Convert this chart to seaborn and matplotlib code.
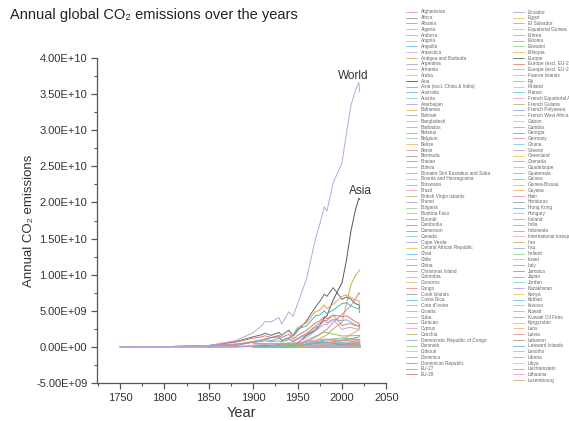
import numpy as np
import pandas as pd
import matplotlib
matplotlib.use("Agg")
import matplotlib.pyplot as plt
import seaborn as sns
from matplotlib.lines import Line2D
from matplotlib.ticker import FuncFormatter, MultipleLocator

# ---------------------------------------------------------------------------
# Annual CO2 emissions (tonnes). Large aggregates on a finer year grid (Gt),
# individual countries on a coarser grid (Mt).
# ---------------------------------------------------------------------------
YEARS = [1750, 1800, 1850, 1880, 1900, 1910, 1913, 1920, 1929, 1932, 1940, 1945,
         1950, 1960, 1970, 1975, 1980, 1983, 1990, 2000, 2005, 2010, 2015, 2019, 2020]

WORLD = [0.009, 0.028, 0.197, 0.86, 1.95, 3.03, 3.52, 3.45, 4.06, 3.15, 4.85, 4.24,
         6.0, 9.4, 14.9, 17.0, 19.4, 18.8, 22.7, 25.5, 29.6, 33.4, 35.5, 36.6, 35.3]
ASIA = [None, None, 0.001, 0.01, 0.08, 0.15, 0.18, 0.2, 0.3, 0.3, 0.45, 0.25,
        0.5, 1.6, 2.3, 3.0, 4.0, 4.3, 6.5, 8.9, 12.0, 16.0, 18.9, 20.6, 20.4]
CHINA = [None, None, None, None, None, 0.01, 0.02, 0.02, 0.03, 0.03, 0.04, 0.03,
         0.08, 0.78, 0.8, 1.15, 1.47, 1.66, 2.48, 3.4, 6.0, 8.6, 9.85, 10.5, 10.67]
ASIA_EXCL_CHINA_INDIA = [None, None, 0.001, 0.005, 0.05, 0.1, 0.12, 0.13, 0.2, 0.2, 0.3, 0.15,
                         0.35, 0.7, 1.3, 1.7, 2.2, 2.4, 3.4, 4.5, 5.1, 5.7, 6.6, 7.5, 7.3]
EUROPE = [0.009, 0.027, 0.19, 0.72, 1.4, 1.7, 1.9, 1.6, 2.0, 1.6, 2.3, 1.5,
          2.25, 3.6, 5.5, 6.3, 7.3, 7.0, 8.2, 6.6, 6.9, 6.6, 6.0, 5.8, 5.3]
EU28 = [0.009, 0.027, 0.19, 0.65, 1.2, 1.4, 1.55, 1.3, 1.6, 1.3, 1.75, 1.1,
        1.6, 2.3, 3.3, 3.6, 4.2, 3.9, 4.4, 4.2, 4.3, 3.9, 3.5, 3.3, 2.9]
EU27 = [0.0, 0.0, 0.03, 0.31, 0.78, 0.96, 1.06, 0.87, 1.17, 0.91, 1.28, 0.66,
        1.07, 1.72, 2.64, 2.98, 3.61, 3.34, 3.8, 3.64, 3.74, 3.4, 3.08, 2.93, 2.57]
EUROPE_EXCL_EU27 = [0.009, 0.027, 0.16, 0.41, 0.62, 0.74, 0.84, 0.73, 0.83, 0.69, 1.02, 0.84,
                    1.18, 1.88, 2.86, 3.32, 3.69, 3.66, 4.4, 2.96, 3.16, 3.2, 2.92, 2.87, 2.73]
EUROPE_EXCL_EU28 = [0.0, 0.0, 0.0, 0.07, 0.2, 0.3, 0.35, 0.3, 0.4, 0.3, 0.55, 0.4,
                    0.65, 1.3, 2.2, 2.7, 3.1, 3.1, 3.8, 2.4, 2.6, 2.7, 2.5, 2.5, 2.4]
NORTH_AMERICA = [0.0, 0.0003, 0.005, 0.2, 0.7, 1.0, 1.1, 1.3, 1.4, 0.95, 1.25, 1.7,
                 2.7, 3.3, 4.9, 5.1, 5.8, 5.3, 5.9, 7.0, 7.2, 6.8, 6.5, 6.4, 5.7]
UNITED_STATES = [None, 0.0003, 0.005, 0.18, 0.66, 0.95, 1.04, 1.25, 1.4, 0.9, 1.2, 1.6,
                 2.5, 2.9, 4.3, 4.4, 5.0, 4.6, 5.1, 6.0, 6.1, 5.7, 5.4, 5.26, 4.7]

SPARSE_YEARS = [1900, 1950, 1980, 2000, 2020]

COUNTRY_MT = {
    "Afghanistan": [None, 0.08, 1.8, 0.8, 11.0],
    "Africa": [9, 100, 540, 890, 1400],
    "Albania": [None, 0.3, 7.4, 3.1, 4.6],
    "Algeria": [None, 2.6, 66, 86, 170],
    "Andorra": [None, None, None, 0.5, 0.46],
    "Angola": [None, 0.5, 5.0, 9.5, 24],
    "Anguilla": [None, None, None, 0.03, 0.14],
    "Antarctica": [None, None, None, 0.01, 0.02],
    "Antigua and Barbuda": [None, 0.02, 0.5, 0.35, 0.5],
    "Argentina": [5, 18, 100, 140, 168],
    "Armenia": [None, 1, 20, 3.4, 6.9],
    "Aruba": [None, None, None, 2.4, 0.9],
    "Australia": [13, 44, 220, 350, 390],
    "Austria": [15, 20, 56, 63, 60],
    "Azerbaijan": [None, 10, 60, 29, 34],
    "Bahamas": [None, 0.3, 8, 1.8, 2.0],
    "Bahrain": [None, 0.5, 8, 18, 33],
    "Bangladesh": [None, 0.5, 8, 25, 90],
    "Barbados": [None, 0.1, 0.8, 1.2, 1.1],
    "Belarus": [None, 10, 95, 53, 58],
    "Belgium": [60, 90, 135, 125, 83],
    "Belize": [None, 0.02, 0.3, 0.5, 0.6],
    "Benin": [None, 0.05, 0.5, 1.5, 7],
    "Bermuda": [None, 0.1, 0.6, 0.5, 0.6],
    "Bhutan": [None, None, 0.01, 0.4, 1.4],
    "Bolivia": [None, 0.7, 4.5, 9, 20],
    "Bonaire Sint Eustatius and Saba": [None, None, None, 0.06, 0.07],
    "Bosnia and Herzegovina": [None, 3, 25, 14, 22],
    "Botswana": [None, None, 0.9, 4, 6.5],
    "Brazil": [1, 20, 190, 330, 467],
    "British Virgin Islands": [None, None, 0.01, 0.07, 0.17],
    "Brunei": [None, 0.1, 5, 6, 8],
    "Bulgaria": [0.3, 8, 85, 44, 38],
    "Burkina Faso": [None, 0.02, 0.4, 1, 4.7],
    "Burundi": [None, 0.01, 0.1, 0.3, 0.7],
    "Cambodia": [None, 0.1, 0.3, 2, 16],
    "Cameroon": [None, 0.2, 2.5, 3, 8],
    "Canada": [28, 140, 455, 565, 536],
    "Cape Verde": [None, 0.02, 0.1, 0.3, 0.6],
    "Central African Republic": [None, 0.02, 0.1, 0.2, 0.3],
    "Chad": [None, 0.01, 0.2, 0.2, 1],
    "Chile": [1.5, 10, 25, 53, 82],
    "Christmas Island": [None, None, None, 0.02, 0.03],
    "Colombia": [0.2, 8, 40, 58, 80],
    "Comoros": [None, None, 0.05, 0.1, 0.3],
    "Congo": [None, 0.1, 1.5, 0.6, 3.5],
    "Cook Islands": [None, None, 0.02, 0.05, 0.07],
    "Costa Rica": [None, 0.3, 2.5, 5, 7.5],
    "Cote d'Ivoire": [None, 0.3, 4.5, 6.5, 11],
    "Croatia": [None, 4, 25, 20, 17],
    "Cuba": [0.5, 6, 30, 25, 21],
    "Curacao": [None, None, None, None, 4],
    "Cyprus": [None, 0.4, 3, 6.5, 6.5],
    "Czechia": [30, 95, 185, 125, 91],
    "Democratic Republic of Congo": [None, 1.5, 4, 1.5, 2.5],
    "Denmark": [5, 20, 63, 53, 27],
    "Djibouti": [None, 0.02, 0.2, 0.3, 0.4],
    "Dominica": [None, 0.01, 0.03, 0.1, 0.18],
    "Dominican Republic": [None, 0.4, 6.5, 19, 22],
    "Ecuador": [None, 1, 14, 20, 31],
    "Egypt": [1, 8, 45, 140, 235],
    "El Salvador": [None, 0.3, 2, 5.5, 6],
    "Equatorial Guinea": [None, 0.01, 0.1, 0.6, 4.5],
    "Eritrea": [None, None, None, 0.6, 0.7],
    "Estonia": [None, 3, 35, 15, 9],
    "Eswatini": [None, None, 0.5, 1, 1.1],
    "Ethiopia": [None, 0.1, 1.8, 3.5, 18],
    "Faeroe Islands": [None, 0.03, 0.6, 0.7, 0.7],
    "Fiji": [None, 0.1, 0.8, 0.9, 1.5],
    "Finland": [1.5, 8, 57, 56, 40],
    "France": [160, 230, 500, 410, 300],
    "French Equatorial Africa": [None, 0.3, None, None, None],
    "French Guiana": [None, 0.02, 0.2, 0.9, 0.6],
    "French Polynesia": [None, 0.01, 0.4, 0.6, 0.8],
    "French West Africa": [None, 0.6, None, None, None],
    "Gabon": [None, 0.05, 5, 6, 6.5],
    "Gambia": [None, 0.01, 0.1, 0.25, 0.6],
    "Georgia": [None, 3, 30, 4.5, 10],
    "Germany": [420, 510, 1090, 900, 640],
    "Ghana": [None, 0.5, 2.5, 6, 17],
    "Greece": [1, 4, 50, 100, 57],
    "Greenland": [None, 0.01, 0.5, 0.6, 0.5],
    "Grenada": [None, 0.01, 0.06, 0.2, 0.3],
    "Guadeloupe": [None, 0.02, 0.6, 1.6, 1.4],
    "Guatemala": [None, 0.5, 4.5, 10, 19],
    "Guinea": [None, 0.05, 1, 1.2, 3.5],
    "Guinea-Bissau": [None, None, 0.13, 0.15, 0.3],
    "Guyana": [None, 0.2, 1.5, 1.7, 2.5],
    "Haiti": [None, 0.1, 0.8, 1.4, 3],
    "Honduras": [None, 0.3, 2, 5, 9.5],
    "Hong Kong": [None, 1, 15, 40, 34],
    "Hungary": [15, 25, 90, 58, 47],
    "Iceland": [None, 0.5, 2, 2.2, 3.3],
    "India": [17, 66, 295, 980, 2440],
    "Indonesia": [1, 9, 95, 270, 590],
    "International transport": [None, None, None, 880, 870],
    "Iran": [0.3, 10, 180, 370, 745],
    "Iraq": [None, 3, 45, 75, 190],
    "Ireland": [8, 10, 25, 45, 35],
    "Israel": [None, 2, 22, 60, 55],
    "Italy": [10, 30, 370, 460, 300],
    "Jamaica": [None, 0.5, 8, 10, 7],
    "Japan": [25, 100, 950, 1260, 1030],
    "Jordan": [None, 0.2, 4.5, 15, 24],
    "Kazakhstan": [None, 30, 200, 150, 290],
    "Kenya": [None, 1, 6, 9, 17],
    "Kiribati": [None, None, 0.01, 0.04, 0.07],
    "Kosovo": [None, None, None, 7, 8],
    "Kuwait": [None, 1, 50, 60, 95],
    "Kuwaiti Oil Fires": [None, None, None, None, None],
    "Kyrgyzstan": [None, 1.5, 20, 4.5, 9],
    "Laos": [None, None, 0.2, 1, 19],
    "Latvia": [None, 3, 20, 7, 7],
    "Lebanon": [None, 0.5, 6, 16, 19],
    "Leeward Islands": [None, 0.01, None, None, None],
    "Lesotho": [None, None, None, 0.3, 0.5],
    "Liberia": [None, 0.05, 1.8, 0.5, 1.4],
    "Libya": [None, 0.1, 27, 45, 50],
    "Liechtenstein": [None, None, 0.2, 0.2, 0.13],
    "Lithuania": [None, 3, 30, 12, 13],
    "Luxembourg": [4, 8, 12, 8.5, 8],
}

# Further entities drawn on the chart beyond the alphabetical legend listing
OTHER_MT = {
    "Russia": [40, 360, 2050, 1510, 1580],
    "United Kingdom": [420, 530, 590, 560, 330],
    "South America": [11, 70, 390, 800, 1000],
    "Oceania": [14, 48, 230, 370, 410],
    "South Korea": [None, 1, 130, 450, 600],
    "Saudi Arabia": [None, 3.7, 170, 300, 590],
    "Mexico": [1, 22, 250, 380, 360],
    "Poland": [40, 110, 450, 320, 300],
    "Ukraine": [None, 150, 670, 300, 175],
    "South Africa": [8, 50, 230, 380, 440],
    "Turkey": [0.5, 8, 75, 220, 390],
    "North America (excl. USA)": [30, 200, 800, 950, 1000],
    "Spain": [9, 20, 210, 300, 215],
    "Netherlands": [15, 40, 170, 170, 145],
    "Taiwan": [None, 4, 75, 220, 270],
    "Thailand": [None, 1, 40, 160, 270],
    "Vietnam": [None, 1, 17, 50, 290],
    "Pakistan": [None, 5, 30, 100, 230],
}

AGGREGATES_GT = {
    "Asia": ASIA,
    "Asia (excl. China & India)": ASIA_EXCL_CHINA_INDIA,
    "China": CHINA,
    "EU-27": EU27,
    "EU-28": EU28,
    "Europe": EUROPE,
    "Europe (excl. EU-27)": EUROPE_EXCL_EU27,
    "Europe (excl. EU-28)": EUROPE_EXCL_EU28,
    "North America": NORTH_AMERICA,
    "United States": UNITED_STATES,
    "World": WORLD,
}

# Legend lists entities in plain (case-sensitive) alphabetical order
LEGEND_NAMES = sorted(list(COUNTRY_MT) + [k for k in AGGREGATES_GT
                                          if k not in ("North America", "United States", "World")])
COL1_COUNT = 64

# ---------------------------------------------------------------------------
# Long-form table
# ---------------------------------------------------------------------------
rows = []
for name, vals in COUNTRY_MT.items():
    for yr, v in zip(SPARSE_YEARS, vals):
        rows.append((name, yr, np.nan if v is None else v * 1e6))
for name, vals in OTHER_MT.items():
    for yr, v in zip(SPARSE_YEARS, vals):
        rows.append((name, yr, np.nan if v is None else v * 1e6))
for name, vals in AGGREGATES_GT.items():
    for yr, v in zip(YEARS, vals):
        rows.append((name, yr, np.nan if v is None else v * 1e9))
df = pd.DataFrame(rows, columns=["entity", "year", "co2"]).dropna()

# ---------------------------------------------------------------------------
# Colours
# ---------------------------------------------------------------------------
CYCLE = ["#ee8f8f", "#9a9a9a", "#72aee0", "#7fd6c8", "#b7a2dc", "#e3c95a",
         "#63c6e8", "#f3a3c2", "#c8b66a", "#9eaadc", "#9fd49a", "#f5b86a"]
KEY_COLOURS = {
    "World": "#bba6de",
    "Asia": "#555555",
    "China": "#b3b83a",
    "Asia (excl. China & India)": "#d783b8",
    "Europe": "#6a6a6a",
    "North America": "#e4a552",
    "United States": "#48b7c2",
    "EU-28": "#e27272",
    "EU-27": "#7fa9dc",
    "Europe (excl. EU-27)": "#d08a70",
    "Europe (excl. EU-28)": "#c9a0d8",
    "Russia": "#8fc36a",
    "Germany": "#e38fb0",
    "India": "#e0b050",
    "Japan": "#6fc0b0",
}
every_name = sorted(set(COUNTRY_MT) | set(OTHER_MT) | set(AGGREGATES_GT))
palette = {n: KEY_COLOURS.get(n, CYCLE[i % len(CYCLE)]) for i, n in enumerate(every_name)}

plotted = set(df["entity"].unique())
draw_order = ([n for n in every_name if n in plotted and n not in KEY_COLOURS]
              + [n for n in KEY_COLOURS if n in plotted and n != "World"] + ["World"])

# ---------------------------------------------------------------------------
# Figure
# ---------------------------------------------------------------------------
sns.set_style("ticks")
plt.rcParams["font.family"] = ["Liberation Sans", "DejaVu Sans"]

fig = plt.figure(figsize=(5.69, 4.21), dpi=100)
ax = fig.add_axes([97 / 569, 38 / 421, 289.4 / 569, 325 / 421])

sns.lineplot(data=df, x="year", y="co2", hue="entity", hue_order=draw_order,
             palette={n: palette[n] for n in draw_order}, linewidth=0.7,
             legend=False, estimator=None, ax=ax)

ax.set_xlim(1724, 2050)
ax.set_ylim(-5e9, 4e10)
ax.xaxis.set_major_locator(MultipleLocator(50))
ax.xaxis.set_minor_locator(MultipleLocator(25))
ax.yaxis.set_major_locator(MultipleLocator(5e9))
ax.yaxis.set_minor_locator(MultipleLocator(2.5e9))
ax.yaxis.set_major_formatter(FuncFormatter(lambda v, p: f"{v:.2E}"))

axis_col = "#555555"
ax.tick_params(which="major", direction="out", length=4, width=0.9,
               color=axis_col, labelsize=8, labelcolor="#333333", pad=3)
ax.tick_params(which="minor", direction="out", length=2.5, width=0.8, color=axis_col)
sns.despine(ax=ax)
for s in ("left", "bottom"):
    ax.spines[s].set_color(axis_col)
    ax.spines[s].set_linewidth(0.9)

ax.set_xlabel("Year", fontsize=10.5, color="#333333")
ax.set_ylabel("Annual CO₂ emissions", fontsize=9.5, color="#333333")
ax.xaxis.set_label_coords(0.5, -0.072)
ax.yaxis.set_label_coords(-0.215, 0.5)

fig.text(10 / 569, 1 - 15 / 421, "Annual global CO₂ emissions over the years",
         fontsize=10.5, color="#222222", ha="left", va="center")

# Labels above the peaks of the two largest series
for name, vals, dx, dy in (("World", WORLD, -4.3, 5.0), ("Asia", ASIA, 1.4, 5.0)):
    arr = np.array([np.nan if v is None else v for v in vals], dtype=float) * 1e9
    i = int(np.nanargmax(arr))
    ax.annotate(name, xy=(YEARS[i], arr[i]), xytext=(dx, dy), textcoords="offset points",
                ha="center", va="center", fontsize=8.5, color="#333333")

# Two-column alphabetical legend
handles = [Line2D([], [], color=palette[n], linewidth=0.6) for n in LEGEND_NAMES]
leg_kw = dict(frameon=False, fontsize=3.4, labelspacing=0.16, handlelength=2.3,
              handletextpad=0.9, borderpad=0, borderaxespad=0, labelcolor="#666666",
              loc="upper left", bbox_transform=fig.transFigure)
fig.legend(handles[:COL1_COUNT], LEGEND_NAMES[:COL1_COUNT],
           bbox_to_anchor=(406 / 569, 1 - 9.5 / 421), **leg_kw)
fig.legend(handles[COL1_COUNT:], LEGEND_NAMES[COL1_COUNT:],
           bbox_to_anchor=(513 / 569, 1 - 9.5 / 421), **leg_kw)

fig.savefig("out.png", dpi=100)
